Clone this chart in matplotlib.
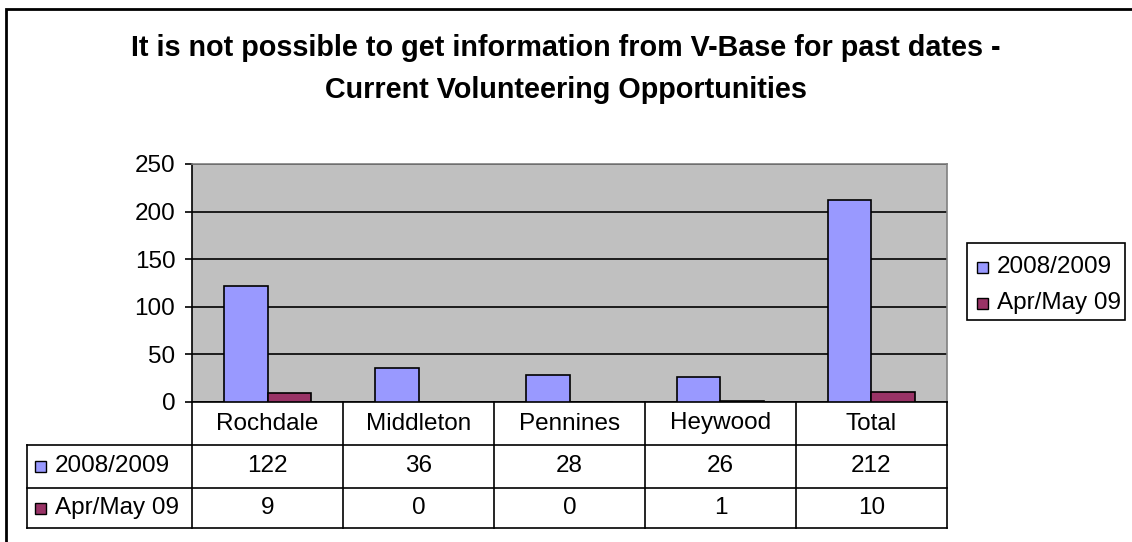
import matplotlib
matplotlib.use("Agg")
import matplotlib.pyplot as plt
from matplotlib.patches import Rectangle
from matplotlib.lines import Line2D
import numpy as np

plt.rcParams['font.family'] = ['Liberation Sans', 'DejaVu Sans']

categories = ["Rochdale", "Middleton", "Pennines", "Heywood", "Total"]
series_names = ["2008/2009", "Apr/May 09"]
values_0809 = [122, 36, 28, 26, 212]
values_aprmay = [9, 0, 0, 1, 10]
colors = ["#9999FF", "#993366"]
title_lines = ["It is not possible to get information from V-Base for past dates -",
               "Current Volunteering Opportunities"]

W, H = 1132, 542
FS = 17.5
fig = plt.figure(figsize=(W / 100, H / 100), dpi=100)

def fx(x):
    return x / W

def fy(y):
    return 1 - y / H

# outer border
fig.add_artist(Rectangle((fx(6), fy(H + 20)), fx(W + 20), (H + 11) / H,
                         transform=fig.transFigure, fill=False, lw=2, ec="black"))

# plot area
L, R, T, B = 192, 947, 164, 402
ax = fig.add_axes([fx(L), fy(B), fx(R - L), (B - T) / H])
ax.set_facecolor("#C0C0C0")
n = len(categories)
x = np.arange(n)
bw = 1 / 3.5
ax.bar(x - bw / 2, values_0809, width=bw, color=colors[0], edgecolor="black", lw=1.2, zorder=3)
ax.bar(x + bw / 2, values_aprmay, width=bw, color=colors[1], edgecolor="black", lw=1.2, zorder=3)
ax.set_xlim(-0.5, n - 0.5)
ax.set_ylim(0, 250)
ax.set_yticks(range(0, 251, 50))
ax.yaxis.grid(True, color="black", lw=1.2, zorder=1)
ax.set_axisbelow(True)
ax.set_xticks([])
ax.tick_params(axis="y", direction="out", length=5, width=1.2, labelsize=FS, pad=7)
for s in ["top", "right"]:
    ax.spines[s].set_color("#808080")
    ax.spines[s].set_linewidth(1.2)
ax.spines["left"].set_linewidth(1.2)
ax.spines["bottom"].set_linewidth(1.2)

# title
fig.text(fx(566), fy(48), title_lines[0], ha="center", va="center", fontsize=20.7, fontweight="bold")
fig.text(fx(566), fy(90), title_lines[1], ha="center", va="center", fontsize=20.7, fontweight="bold")

# data table
col_edges = [L + (R - L) * i / n for i in range(n + 1)]
row_y = [B, 445, 488, 528]
lab_left = 27
lw = 1.2

def hline(y, x0, x1):
    fig.add_artist(Line2D([fx(x0), fx(x1)], [fy(y), fy(y)], color="black", lw=lw,
                          transform=fig.transFigure))

def vline(x0, y0, y1):
    fig.add_artist(Line2D([fx(x0), fx(x0)], [fy(y0), fy(y1)], color="black", lw=lw,
                          transform=fig.transFigure))

for y in row_y[1:]:
    hline(y, lab_left, R)
for xe in col_edges:
    vline(xe, B, row_y[-1])
vline(lab_left, row_y[1], row_y[-1])

for i, c in enumerate(categories):
    cx = (col_edges[i] + col_edges[i + 1]) / 2
    fig.text(fx(cx), fy((row_y[0] + row_y[1]) / 2), c, ha="center", va="center", fontsize=FS)
    fig.text(fx(cx), fy((row_y[1] + row_y[2]) / 2), str(values_0809[i]), ha="center", va="center", fontsize=FS)
    fig.text(fx(cx), fy((row_y[2] + row_y[3]) / 2), str(values_aprmay[i]), ha="center", va="center", fontsize=FS)

SQ = 11
for r, (name, col) in enumerate(zip(series_names, colors)):
    cy = (row_y[r + 1] + row_y[r + 2]) / 2
    fig.add_artist(Rectangle((fx(35), fy(cy + SQ / 2)), SQ / W, SQ / H, transform=fig.transFigure,
                             fc=col, ec="black", lw=1))
    fig.text(fx(55), fy(cy), name, ha="left", va="center", fontsize=FS)

# legend box
lx0, lx1, ly0, ly1 = 967, 1125, 243, 320
fig.add_artist(Rectangle((fx(lx0), fy(ly1)), (lx1 - lx0) / W, (ly1 - ly0) / H,
                         transform=fig.transFigure, fill=False, ec="black", lw=1.2))
for r, (name, col) in enumerate(zip(series_names, colors)):
    cy = 267 + r * 36
    fig.add_artist(Rectangle((fx(lx0 + 10), fy(cy + SQ / 2)), SQ / W, SQ / H, transform=fig.transFigure,
                             fc=col, ec="black", lw=1))
    fig.text(fx(lx0 + 30), fy(cy), name, ha="left", va="center", fontsize=FS)

fig.savefig("out.png", dpi=100)
